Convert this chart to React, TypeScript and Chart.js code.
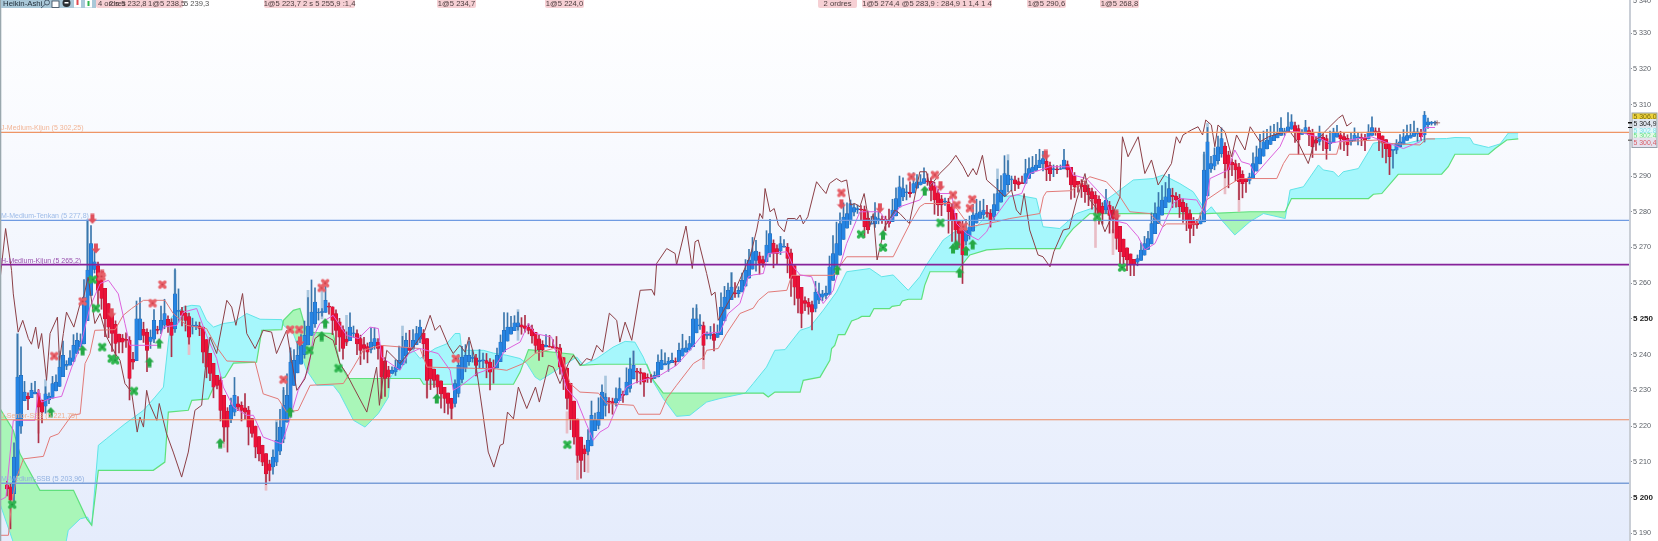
import React, { useEffect, useRef } from "react";
import { Chart, registerables } from "chart.js";

Chart.register(...registerables);

const firstBar = 2;
const lastSlot = 465.43;
const priceMin = 5187.8;
const priceMax = 5339.3;

const closes = [
  5202.4,5199.2,5211.3,5233.7,5234.2,5229.5,5227.6,5230,5229.5,5225.3,
  5223.9,5229,5228.3,5231.9,5232.3,5236.5,5239.8,5237.3,5239.1,5242.6,
  5244,5243.8,5256,5263.7,5271.1,5266,5258,5255.7,5250,5247.7,
  5245.9,5243.1,5243.5,5243.5,5244,5233.3,5237.9,5250,5250,5245.4,
  5241.2,5244.9,5249.6,5246.8,5249.6,5251.5,5248.2,5245.4,5257,5252.4,
  5251,5249.6,5244.9,5248.2,5248.2,5247.3,5240.7,5236.5,5234.7,5230.9,
  5231.4,5224.4,5219.7,5219.7,5225.8,5228.6,5225.3,5224.4,5223.9,5219.7,
  5217.9,5214.1,5212.2,5209.9,5206.6,5207.6,5211.3,5216,5219.7,5225.8,
  5228.6,5237.9,5238.4,5239.8,5242.6,5245.4,5248,5251.9,5254.7,5251.9,
  5251.9,5255.2,5253.3,5249.6,5246.8,5244.9,5241.7,5243.5,5247.7,5246,
  5243,5241.2,5241.7,5240.7,5243.5,5244.5,5241.7,5233.7,5233.3,5233.7,
  5235.6,5236.5,5238.4,5242.1,5244,5241.2,5244,5245.9,5247.7,5243,
  5232.8,5233.2,5232.8,5230.9,5229,5227.7,5226.3,5224.9,5231.9,5237,
  5239.3,5239.8,5239.8,5239.3,5237,5238.4,5238.4,5237.5,5235.1,5236,
  5239.8,5243.5,5246.8,5247.7,5247.7,5248.9,5248.9,5247.7,5247.3,5246.8,
  5245.2,5242.6,5241.4,5241.4,5242.6,5242.1,5241.9,5241.7,5236.5,5233.2,
  5227.7,5222,5216.9,5211.8,5210.4,5212.2,5216,5223,5221.6,5223.9,
  5229.5,5228.1,5226.7,5226.3,5227.7,5230.5,5228.6,5232.3,5236,5237,
  5235.1,5234.7,5232.3,5233.2,5233.2,5234.2,5237.9,5238.4,5237.5,5238.2,
  5238.4,5237.9,5241.2,5241.7,5241.9,5243.1,5250,5250,5248.2,5242.6,
  5245.4,5245.9,5244,5246.3,5253.3,5256.1,5258,5258.9,5257,5258,
  5260.8,5263.6,5266.5,5268.8,5269,5265.5,5265.5,5270.7,5273.9,5268.3,
  5268.3,5271.1,5270.2,5266.9,5261.3,5258.9,5255.7,5251.5,5254.3,5253.3,
  5251.9,5257.5,5257,5257,5257.2,5264.6,5268.3,5271.1,5276.7,5278.5,
  5279.5,5282.3,5281.2,5280.9,5280.5,5275.8,5274.9,5276.7,5278.6,5278.1,
  5277.7,5277.7,5276.7,5280.5,5283.7,5287,5286.5,5285.5,5285.1,5287.9,
  5288.4,5288.4,5289.3,5288.4,5286,5283.3,5281.9,5281.9,5282.8,5280,
  5277.7,5274.9,5273.9,5267.9,5274.9,5275.8,5279.1,5279.5,5280,5280.5,
  5279.5,5277.7,5282,5285.1,5286.1,5290.7,5290.3,5289,5287.9,5287.5,
  5287.9,5290.7,5292.1,5292.5,5293.1,5294.5,5294.9,5291.7,5290.7,5292.1,
  5291.7,5292.1,5294.5,5291.7,5287.5,5287,5287.5,5287,5285.6,5284.7,
  5283.7,5282.3,5279.5,5279.5,5283.3,5279,5278.1,5272.5,5268.8,5267.4,
  5266.5,5265.1,5265.1,5266.9,5269.3,5271.1,5272.5,5276.7,5279.5,5281.4,
  5283.3,5284.2,5286.5,5284.2,5283.3,5281.4,5280,5277.7,5275.3,5276.3,
  5276.3,5277.7,5291.7,5299.6,5293.5,5295.9,5298.2,5300.5,5293.5,5291.7,
  5293.1,5291.7,5288.4,5287.9,5288.4,5289.8,5293.5,5295.4,5297.7,5299.6,
  5300.1,5301,5301.5,5302,5303.4,5302.4,5303.8,5305.2,5302.4,5300.1,
  5302,5303.6,5301.5,5298.2,5299.2,5302,5300.1,5297.7,5299.6,5302.4,
  5302.2,5300.5,5300.1,5298.7,5300.1,5301.5,5301,5300.5,5300.1,5302.4,
  5303.6,5302.4,5300.1,5299.2,5297.7,5295.4,5297.3,5299.2,5299.6,5301,
  5301.3,5301.5,5302.4,5302.4,5301,5307.1,5305.2,5304.8,5304.9,
];

const wickUp = [
  1,1,4,12,8,3,1,2,3,1, 0,2,1,2,2,3,4,1,2,3, 2,2,5,14,5,3,1,2,0,0,
  0,1,0,1,2,1,2,5,6,2, 1,2,3,1,4,4,1,1,7,6, 1,2,1,2,1,1,0,0,0,0,
  0,1,0,1,2,5,2,1,4,1, 0,0,0,0,0,1,2,5,5,5, 6,4,3,4,3,4,8,9,4,1,
  1,4,1,0,1,1,1,2,4,2, 1,1,2,1,4,3,1,0,1,1, 1,2,4,3,2,5,3,2,2,1,
  0,0,0,0,0,0,0,0,1,3, 3,3,4,2,1,3,2,2,1,2, 2,2,5,4,3,2,3,2,3,1,
  1,0,1,1,3,3,2,3,1,0, 0,0,0,0,0,1,3,4,2,4, 2,1,1,1,3,3,1,4,3,4,
  1,1,0,1,1,1,2,3,3,1, 2,1,2,4,2,2,3,4,3,1, 1,2,3,2,4,3,2,4,3,1,
  2,3,3,4,3,1,1,4,4,1, 1,2,2,1,1,0,0,0,1,1, 1,3,3,1,2,3,5,6,3,4,
  3,1,1,1,1,1,2,2,4,2, 1,1,3,3,3,3,3,2,3,3, 2,2,3,2,1,1,1,1,1,1,
  1,0,0,2,3,3,3,4,3,3, 2,1,3,4,4,5,4,1,1,1, 2,4,3,3,3,3,2,1,1,1,
  1,1,3,1,0,1,0,1,1,1, 1,1,1,1,3,1,1,1,0,0, 0,0,0,1,2,2,2,3,3,4,
  4,4,4,2,1,1,1,1,1,1, 1,2,5,4,2,2,3,3,1,1, 1,1,1,1,0,1,3,3,4,3,
  3,3,3,3,3,1,4,2,1,1, 1,2,1,1,1,2,1,1,3,1, 2,1,1,1,2,2,1,1,1,2,
  3,1,1,0,0,0,0,1,2,2, 3,3,3,1,1,1,1,0.5,0.5,
];

const wickDown = [
  2,8,3,0,2,0,3,0,0,10, 3,2,1,0,0,0,0,1,0,0, 0,0,0,0,0,1,4,3,5,3,
  5,4,3,3,2,6,2,0,0,2, 6,2,1,1,1,1,2,6,1,3, 3,3,2,2,1,2,3,3,2,3,
  1,3,4,7,1,1,1,3,2,5, 1,3,2,1,3,3,2,1,1,1, 0,0,0,0,0,1,0,0,1,2,
  1,0,2,4,4,4,3,1,0,1, 3,4,3,3,1,1,3,6,5,3, 0,1,0,0,2,0,0,0,1,4,
  5,3,2,3,4,4,3,3,1,1, 1,1,1,1,3,2,2,4,5,4, 0,0,0,0,0,0,1,2,1,1,
  2,2,3,2,0,0,0,1,2,3, 3,3,2,2,5,5,1,0,0,1, 0,3,3,3,1,0,2,0,1,0,
  3,3,4,1,1,0,0,0,0,2, 0,1,0,0,0,0,0,0,1,4, 1,1,3,0,0,0,0,0,1,1,
  0,0,0,0,3,3,1,0,1,4, 3,1,0,4,5,5,4,4,2,2, 5,1,1,1,1,0,0,0,0,0,
  0,1,1,1,3,3,1,0,1,1, 1,3,1,0,0,0,1,2,1,0, 0,0,0,1,3,4,3,3,1,6,
  6,4,4,8,1,1,0,0,0,1, 1,2,1,0,0,0,2,3,2,1, 0,0,0,0,0,0,2,3,2,2,
  1,0,0,2,4,3,2,3,3,3, 3,3,3,3,1,5,4,3,4,3, 3,3,3,1,0,0,0,0,0,0,
  0,0,0,3,2,3,3,3,4,3, 1,0,0,0,1,1,1,1,4,5, 3,3,5,4,3,1,0,0,0,0,
  0,0,0,0,0,1,0,0,3,4, 0,0,3,3,2,1,3,3,2,0, 0,3,3,3,1,0,2,2,3,0,
  0,1,3,4,4,5,5,1,0,0, 0,0,0,2,1,2,1,0.5,0.5,
];

const paleBlueWicks = [
  [5,5228,5246],[13,5229,5233],[17,5236,5241],[25,5262,5277.7],[50,5250,5263.6],[79,5215,5221.6],
  [81,5221,5230],[83,5230,5241],[88,5248,5258],[92,5250,5258],[99,5243,5251],[115,5240,5248],
  [148,5244,5252.6],[173,5228,5234],[181,5233,5241],[199,5248,5253],[209,5258,5263],
  [285,5285,5292],[288,5288,5296],[344,5278,5296],[345,5295,5304.8],
];
const paleRedWicks = [
  [11,5218,5230],[54,5240,5247],[64,5214,5222],[76,5202,5207],[122,5228,5236],[129,5222,5226],
  [162,5218,5224],[165,5205,5213],[168,5207,5214],[201,5236,5242],[313,5270,5282],[318,5268,5275],
  [350,5285,5292],[354,5280,5289],
];

const chikou = [
  [0,5260.9],[1.6,5275.3],[3.3,5263.6],[3.8,5257],[5.2,5246.3],[6.5,5249.6],[8.1,5244.5],[9,5242.9],[10.2,5247.7],[11,5241.7],
  [11.9,5245.9],[13.3,5232.8],[14.3,5245.9],[16.4,5250.5],[17,5238.4],[18.1,5245.9],[19,5251.9],[21.1,5247.7],[22.9,5254.3],[24,5256.6],
  [25.2,5261.7],[27.1,5248.7],[28.6,5251.5],[30.5,5244.9],[32.9,5240.3],[34.3,5238.4],[35.7,5231.9],[37.6,5229.5],[39.2,5218.3],[40,5222.5],
  [41,5219.7],[41.9,5230],[42.7,5226.3],[44.8,5221.6],[45.5,5226.3],[47.6,5217.8],[49.5,5212.7],[51.9,5205.7],[53.8,5212.7],[55.7,5224.4],
  [57.6,5225.8],[58.6,5235.6],[60,5244.9],[61.9,5240.3],[64.8,5255.2],[66.2,5253.3],[67.4,5248.2],[69.3,5257.1],[70.5,5245.9],[72.9,5241.7],
  [75.2,5246.8],[77.6,5246.3],[79,5240.3],[81.9,5246.8],[83.3,5238.4],[84.8,5230],[87.1,5233.2],[90,5244.5],[91.9,5245.9],[95.2,5244],
  [97.1,5237.5],[99,5234.7],[101,5230.9],[104.8,5223.9],[107.6,5236.5],[108.4,5225.8],[110.5,5241.2],[114.3,5237.5],[118.1,5242.1],[121.4,5246.8],
  [122.9,5251],[124.3,5246.8],[125.7,5248.2],[128.1,5242.6],[129.5,5240.3],[131.4,5242.6],[132.9,5240.7],[134,5244.9],[135.7,5238.9],[138.1,5222.5],
  [139.5,5212.7],[141.1,5208.5],[142.9,5214.6],[143.8,5215],[145,5223.9],[146.7,5222],[148.1,5230.9],[150.5,5224.9],[153,5230.9],[154.1,5226.7],
  [156.7,5237],[158.1,5236.5],[160,5231.9],[162.4,5237.5],[163.8,5239.8],[165.9,5237],[167.6,5238.9],[169,5238.4],[170.5,5242.6],[172.2,5240.7],
  [174.1,5251.6],[176.2,5249.6],[177.1,5243.5],[178.6,5249.1],[180.5,5244],[182.9,5258],[186.2,5258.2],[187,5256.6],[187.6,5265.5],[190.5,5269.7],
  [192.9,5268.3],[193.3,5265.1],[196,5276],[197.8,5264.1],[198.6,5271.6],[199.5,5272.1],[201.9,5262.7],[203.3,5256.6],[204.3,5257.5],[205.2,5249.6],
  [210,5258],[214.3,5267.4],[216.2,5274.9],[217.1,5279.5],[217.9,5278.1],[218.6,5286.5],[220,5280],[221.2,5280.9],[222.4,5276.3],[224.1,5274.4],
  [225,5278.1],[227.1,5278.1],[227.6,5277.7],[228.6,5279.1],[229.5,5276.6],[230.8,5278.6],[233.3,5288.4],[234.8,5286.5],[236,5285.1],[237,5287.9],
  [239,5289.3],[240.4,5288.4],[241.9,5288.9],[243,5281.9],[244.2,5282.3],[245.7,5281.4],[246.9,5285.1],[248.5,5275.8],[249.5,5279.5],[250.6,5266.5],
  [252.8,5275.8],[255.7,5280.5],[257.1,5279.5],[259.8,5276.7],[262.8,5291.2],[264.7,5291.2],[265.7,5287],[268.5,5290.7],[271.4,5293.5],[273.1,5295.8],
  [275.2,5292.6],[276.6,5289.8],[278,5292.1],[279,5290.3],[280.7,5295.8],[281.9,5288.9],[284.7,5286.5],[287.1,5284.2],[289,5286.1],[290.4,5280.5],
  [291.6,5279.1],[292.6,5285.1],[294.2,5274.9],[296.6,5267.9],[298,5267.4],[300,5264.6],[301.1,5268.8],[303.8,5274.9],[305.5,5275.3],[307.6,5283.3],
  [310,5290.7],[311.4,5283.3],[313.3,5280.9],[315.7,5274.4],[318,5279.5],[320,5284.2],[320.7,5301],[322.3,5295.4],[325.2,5301],[327.1,5290.7],
  [329,5294.5],[330.9,5287.5],[334.7,5293.5],[336.1,5301],[337.1,5299.2],[338,5301.5],[340.4,5302.9],[342.3,5303.8],[343.6,5301.5],[344.5,5305.7],
  [346.1,5304.3],[347.1,5298.2],[348,5304.3],[350,5302.4],[351.9,5295.4],[353.3,5301.5],[355.7,5297.3],[357.2,5303.8],[360,5299.6],[362.4,5301],
  [365.7,5302],[368.6,5302.4],[371,5299.2],[373.8,5293.5],[375.7,5300.1],[377.2,5301],[379.5,5303.4],[382.4,5306.2],[383.6,5307.1],[384.8,5304],[386.2,5305],
];

const kijun = [
  [0,5189.4],[2.4,5189.4],[3.3,5198.2],[4.8,5205.7],[6.7,5210.8],[12.4,5211.5],[14.3,5216.9],[16.7,5217.8],[20.5,5223],[22.9,5223.4],
  [24.3,5237.5],[25.7,5240.3],[27.1,5246.8],[32.9,5247],[35.2,5251],[37.6,5252.9],[41,5255.2],[47.1,5255.2],[49.5,5251.5],[53.3,5248.2],
  [59,5247.3],[61.9,5242.1],[64.8,5238.2],[72.9,5237.9],[75.2,5229],[79.5,5227.6],[81.9,5223.9],[85.2,5224.4],[88.6,5231.4],[98.1,5231.9],
  [101,5236.5],[103.8,5241.2],[108.6,5242.6],[120,5241.7],[122,5236.5],[141.9,5236],[144.8,5235.6],[149.5,5237.5],[152.9,5240.3],[158.1,5241.7],
  [160,5241.2],[162.9,5231.9],[165.7,5229.5],[171,5229.2],[173.3,5226.3],[181,5225.8],[182.4,5223.3],[188.6,5223.3],[190.5,5227.7],[193.3,5231.4],
  [198.1,5237.5],[201.1,5239.3],[201.9,5241.2],[205.2,5241.7],[207.6,5245.9],[211.4,5251.5],[215.2,5253],[216.7,5255.2],[219.5,5257.5],[224.8,5258],
  [226.2,5262.2],[238.1,5262.2],[241.9,5267.4],[255.2,5267.4],[257.6,5272.1],[260,5276.7],[262.8,5281.4],[264.2,5282.3],[272.3,5282.3],[277.1,5275.8],
  [284.7,5277.2],[288.5,5278.1],[297.1,5279.5],[298.1,5284.2],[299,5285.6],[306.1,5285.9],[311.4,5289.8],[316.1,5288.4],[320,5284.2],[322.8,5280],
  [328.5,5279.5],[332.3,5275.8],[333.3,5276.6],[341.9,5276.6],[344.7,5283.3],[349.5,5286.5],[354.2,5289.3],[364.8,5289.3],[366.7,5293.5],[368.4,5296.1],
  [381.9,5296.1],[382.9,5299.6],[393.8,5300.1],[395.2,5299.2],[405.7,5298.7],[407.6,5300.4],[410,5300.4],
];

const tenkan = [
  [0,5199.2],[1.7,5200.1],[3.8,5221.6],[10,5221.6],[11,5230],[11.9,5226.7],[14.3,5227.7],[17.6,5228.3],[20.5,5236.5],[22.9,5242.1],
  [25.7,5253.3],[28.6,5259.9],[31,5260.8],[33.8,5257],[35.7,5248.7],[37.1,5242.6],[45.2,5242.6],[46.7,5247.7],[50.5,5248.2],[52.4,5251.9],
  [56.2,5252.9],[59,5245.4],[61.9,5238.9],[63.8,5230.9],[66.7,5225.3],[70.5,5223],[72.4,5223],[75.2,5216.9],[77.6,5216],[80.5,5215],
  [82.4,5220.6],[85.2,5230],[88.1,5235.6],[89.5,5244.9],[91.4,5248.7],[95.2,5251],[99,5245.4],[102.4,5244.5],[105.7,5247.7],[108.1,5247.3],
  [109,5239.3],[114.3,5235.6],[116.7,5240.3],[120,5241.7],[125.2,5240.3],[128.6,5235.6],[129.5,5230],[131.9,5231.4],[136.2,5234.7],[141.4,5236.5],
  [144.3,5241.2],[148.6,5243.5],[151,5248.7],[152.9,5245.9],[157.6,5244.9],[159,5240.3],[161.9,5230.5],[164.8,5227.2],[167.1,5221.6],[169.5,5216],
  [171.4,5218.3],[173.8,5219.7],[176.2,5225.3],[179,5230.9],[181.9,5232.3],[186.7,5233.7],[188.6,5234.2],[193.3,5237],[197.1,5241.2],[201,5245.9],
  [205.7,5246.3],[208.1,5251.5],[211.4,5254.3],[213.8,5261.8],[215.2,5262.3],[218.1,5262.7],[219.5,5268.3],[224.8,5268.8],[226.7,5264.6],[228.6,5262.3],
  [231.9,5261.8],[233.3,5258],[235.2,5254.3],[238.1,5258],[238.5,5259.9],[241.9,5271.1],[245.7,5280],[251.4,5280],[253.8,5276.7],[257.1,5281.4],
  [262.8,5283.3],[266.6,5288.4],[268.5,5285.1],[271.9,5285.1],[273.3,5276.7],[276.1,5273.9],[279.5,5272.1],[281.9,5274.4],[283.3,5277.2],[288.5,5284.2],
  [291.9,5285.1],[294.2,5290.7],[300,5292.6],[305.7,5292.6],[306.6,5290.3],[310.4,5289.3],[316.1,5283.3],[317.6,5277.7],[321.9,5276.7],[325.2,5273],
  [327.1,5269.3],[330,5271.1],[335.2,5282.3],[337.1,5283.7],[341.9,5283.3],[344.2,5279.5],[345.7,5289.3],[350.9,5291.7],[352.8,5297.3],[354.7,5294],
  [357.1,5293.3],[358.6,5290.3],[361.9,5294],[365.7,5298.2],[367.6,5302.4],[371,5302.4],[376.2,5301],[380,5299.2],[385.3,5300.1],[391.9,5301],
  [396.7,5299.2],[401,5297.7],[405.7,5299.6],[407.2,5303.6],[410,5303.6],
];

const senkouA = [
  [0,5198.2],[4.3,5186],[18.6,5186],[19.5,5190.8],[22.9,5194],[25,5194.5],[26.2,5192.2],[28.1,5214.6],[30.5,5216.5],[35.7,5220.6],
  [41,5224.4],[44.3,5228.1],[46.7,5230.9],[48.1,5243.5],[49,5250.5],[52.4,5253.3],[54.8,5253.8],[57.1,5253.6],[59,5249.6],[61,5247.7],
  [63.8,5248.7],[66.7,5249.1],[70.5,5251.5],[74.3,5249.9],[80.5,5249.8],[81,5248.2],[83.8,5245.9],[87.6,5235.6],[90.5,5231.4],[95.2,5231.4],
  [97.1,5229],[101,5221.6],[104.3,5219.7],[108.1,5223.5],[111,5228.1],[111.4,5233.3],[114.3,5237.9],[118.1,5241.2],[120,5238.9],[124.3,5241.7],
  [127.6,5243],[130,5245.9],[131.4,5245.9],[131.9,5241.2],[138.1,5241.2],[141,5240.4],[144.8,5239.8],[148.6,5238.9],[150.5,5237.5],[152.9,5233.7],
  [154.3,5232.8],[158.1,5235.1],[161,5237],[164.8,5239.3],[166.7,5237],[170.5,5238.9],[175.2,5242.1],[178.6,5243.7],[181.4,5243.5],[183.8,5239.3],
  [186.7,5232.3],[189.5,5227.7],[193.3,5222.7],[197.1,5223],[201.9,5226.7],[205.7,5227.7],[212.9,5229.2],[215.2,5231.9],[219,5236.5],[221.4,5241.2],
  [224.3,5241.4],[228.6,5246.8],[231.4,5247.7],[235.2,5252.4],[239,5257.5],[241.9,5263.2],[248.5,5264.1],[251.9,5261.8],[255.2,5262.3],[259.5,5258],
  [262.8,5261.8],[264.7,5265.1],[269.5,5272.1],[272.8,5274.4],[279,5275.8],[282.8,5280],[286.6,5284.2],[290.4,5284.7],[296.1,5283.7],[298,5275.8],
  [302.8,5275.3],[307.6,5279.5],[313.3,5281.4],[320,5286.1],[323.8,5288.9],[329.5,5289.3],[332.3,5290.3],[337.1,5287.9],[340.9,5285.6],[344.7,5280],
  [346.1,5281.4],[349,5277.7],[352.8,5273.5],[357.1,5277.2],[361,5279.5],[367.2,5278.1],[368.6,5286.1],[372.4,5287],[376.7,5293.1],[378.1,5291.7],
  [381,5291.2],[382.4,5289.8],[383.8,5291.2],[388.1,5292.1],[391,5296.8],[392.4,5299.2],[394.8,5299.6],[400,5298.7],[407.2,5300.4],[413.3,5300.5],
  [415.7,5300.8],[420,5300.7],[421,5299],[425.3,5298],[428.6,5299],[431,5302.1],[433.8,5302.1],
];

const senkouB = [
  [0,5224.9],[3.8,5218.8],[5.7,5212.2],[11.4,5202],[21,5202],[24.8,5194],[26.2,5192.2],[28.1,5207.6],[43.8,5207.6],[47.1,5209.9],
  [48.1,5223.9],[53.8,5224.4],[54.8,5227.2],[59.5,5227.6],[61.9,5232.8],[64.3,5233.7],[66.7,5237.6],[73.3,5237.9],[74.8,5246.8],[80.5,5247],
  [81,5249.6],[83.8,5252.4],[85.7,5252.9],[87.6,5246.3],[95.2,5245.9],[97.1,5237.5],[99.5,5233.3],[120,5233.3],[121,5231.7],[146.7,5231.7],
  [148.6,5235.1],[151,5241.4],[163.8,5240.1],[165.7,5237],[171.4,5237.3],[184.8,5237.3],[186.7,5232.8],[189.5,5229.2],[218.1,5229.2],[219.5,5228.1],
  [221.4,5229.5],[228.6,5229.5],[229.5,5232.8],[234.3,5233.7],[237.1,5238.4],[237.6,5241.7],[238.5,5242.6],[239.5,5245.6],[241.4,5245.6],[243.3,5249.4],
  [245.2,5250.1],[246.2,5250.7],[248.5,5250.7],[249.7,5252.9],[254.2,5252.9],[254.9,5253.5],[257.1,5253.8],[257.8,5255],[259.5,5255.5],[263.3,5255.5],
  [264.2,5259.4],[265.7,5263.2],[273.3,5263.2],[277.1,5267.9],[281.9,5269.3],[287.6,5269.7],[302.8,5269.7],[304.7,5273],[306.6,5275.3],[311.4,5279.5],
  [344.7,5279.5],[357.1,5280],[367.2,5280],[369,5283.7],[391,5283.7],[392.4,5284.9],[394.8,5285.1],[399.5,5290.5],[411.9,5290.5],[413.8,5292.6],
  [415.7,5296.1],[425.3,5296.1],[427.2,5297.7],[430.5,5300.1],[433.8,5300.4],
];

const sellSignals = [
  [46.4,5259.6],[15.5,5239.6],[23.6,5254.9],[43.6,5254.4],[81,5233],[82.9,5247],[85.5,5247],[91.9,5258.7],[92.9,5260],[29,5261.9],[130.2,5238.9],
  [240.4,5285.3],[260.4,5289.8],[267.1,5290.3],[272.3,5284.7],[273.3,5281.9],[277.8,5283.5],[277.1,5281],[275.2,5275.8],
];
const sellArrows = [
  [26.4,5278],[27.4,5269.7],[29.2,5262.3],[31.9,5251.6],[85.7,5243.7],[240.4,5282.1],[251.4,5281],[268.7,5287.2],[298.8,5295.9],[319,5279.1],
];
const buySignals = [
  [26.5,5261],[27.4,5253],[29.2,5242.1],[31.9,5238.9],[32.9,5238.4],[38.3,5229.8],[3.5,5198],[88.4,5241.2],[96.7,5236.2],[162.1,5214.8],
  [246,5273.7],[252.3,5270],[268.7,5276.9],[313.5,5278.6],[320.6,5264.4],
];
const buyArrows = [
  [14.5,5223.9],[23.6,5241.2],[45.5,5243.2],[42.7,5237.9],[62.9,5215.2],[82.9,5223.9],[92.9,5248.8],[91.9,5245.2],[124.8,5227.7],[239.2,5263.7],
  [252.3,5273.5],[264.2,5285.9],[272.3,5269.7],[273.3,5270.7],[276,5269.1],[277.9,5270.9],[274.2,5262.9],
];

const levelNames = ["J-Medium-Kijun (5 302,25)", "M-Medium-Tenkan (5 277,8)", "H-Medium-Kijun (5 265,2)", "J-Senior-SSB (5 221,75)", "M-Medium-SSB (5 203,96)"];
const levelValues = [5302.25, 5277.6, 5265.2, 5221.75, 5203.96];
const priceTicks = [5190,5200,5210,5220,5230,5240,5250,5260,5270,5280,5290,5300,5310,5320,5330];
const topTick = 5340;
const boldTicks = [5200, 5250];
const orderTags = ["1@5 223,7 2 s 5 255,9 :1,4", "1@5 234,7", "1@5 224,0", "2 ordres", "1@5 274,4 @5 283,9 : 284,9 1 1,4 1 4", "1@5 290,6", "1@5 268,8"];
const overlappedTags = ["4 ordres", "2 s 5 232,8", "1@5 238,5", "5 239,3"];
const priceTags = ["5 306,0", "5 302,8", "5 302,4", "5 304,9", "5 300,4"];

const levelStyle = [
  { line: "#ee9566", text: "#f2b596", w: 1.2 },
  { line: "#6f9be2", text: "#9dbbe8", w: 1.2 },
  { line: "#86229a", text: "#9a52ae", w: 1.6 },
  { line: "#ec8a62", text: "#f0b08e", w: 1.2 },
  { line: "#7b9fd8", text: "#90b0e0", w: 1.4 },
];

const FONT = "'Liberation Sans', Arial, sans-serif";

function pts(list: number[][]) {
  return list.map(([x, y]) => ({ x, y }));
}

function tickText(v: number) {
  const s = String(v);
  return s.slice(0, 1) + " " + s.slice(1);
}

function makeMarker(kind: string) {
  const c = document.createElement("canvas");
  c.width = 10;
  c.height = 11;
  const g = c.getContext("2d") as CanvasRenderingContext2D;
  if (kind === "redX" || kind === "greenX") {
    const col = kind === "redX" ? "#e8626a" : "#30b650";
    g.strokeStyle = col;
    g.lineWidth = 3.6;
    g.lineCap = "round";
    g.beginPath();
    g.moveTo(2.6, 3.1);
    g.lineTo(7.4, 7.9);
    g.moveTo(7.4, 3.1);
    g.lineTo(2.6, 7.9);
    g.stroke();
    g.beginPath();
    g.arc(5, 5.5, 1, 0, 7);
    g.fillStyle = kind === "redX" ? "#c83d48" : "#1e8f3c";
    g.fill();
  } else {
    const up = kind === "greenUp";
    g.fillStyle = up ? "#25a845" : "#e0505c";
    g.beginPath();
    if (up) {
      g.moveTo(5, 0.5); g.lineTo(9.5, 5.5); g.lineTo(7, 5.5); g.lineTo(7, 10.5); g.lineTo(3, 10.5); g.lineTo(3, 5.5); g.lineTo(0.5, 5.5);
    } else {
      g.moveTo(5, 10.5); g.lineTo(9.5, 5.5); g.lineTo(7, 5.5); g.lineTo(7, 0.5); g.lineTo(3, 0.5); g.lineTo(3, 5.5); g.lineTo(0.5, 5.5);
    }
    g.closePath();
    g.fill();
  }
  return c;
}

const decor = {
  id: "decor",
  beforeDraw(chart: any) {
    const { ctx, chartArea: a, width, height } = chart;
    ctx.save();
    ctx.fillStyle = "#ffffff";
    ctx.fillRect(0, 0, width, height);
    const g = ctx.createLinearGradient(0, 0, 0, height);
    g.addColorStop(0, "#ffffff");
    g.addColorStop(1, "#e5ecfc");
    ctx.fillStyle = g;
    ctx.fillRect(a.left, 0, a.right - a.left, height);
    ctx.restore();
  },
  afterDraw(chart: any) {
    const { ctx, chartArea: a, height, scales } = chart;
    const y = scales.y;
    const x = scales.x;
    ctx.save();
    ctx.fillStyle = "#c9ced6";
    ctx.fillRect(a.right, 0, 2, height);
    ctx.fillStyle = "#9aa8ae";
    ctx.fillRect(0, 0, 1.3, height);

    ctx.fillStyle = "#5a5f66";
    ctx.font = `7.2px ${FONT}`;
    ctx.textBaseline = "middle";
    ctx.fillText(tickText(topTick), a.right + 4, y.getPixelForValue(topTick) + 3.5);

    ctx.textBaseline = "alphabetic";
    ctx.font = `7px ${FONT}`;
    levelNames.forEach((name, i) => {
      ctx.fillStyle = levelStyle[i].text;
      ctx.fillText(name, 1, y.getPixelForValue(levelValues[i]) - 2);
    });

    const tag = (l: number, r: number) => {
      ctx.fillStyle = "#f6d0d4";
      ctx.beginPath();
      ctx.roundRect(l, -3, r - l, 11, 2);
      ctx.fill();
    };
    const tagSpans = [[264, 355], [437, 476], [545, 584], [818, 857], [862, 992], [1027, 1066], [1100, 1139]];
    tag(96, 183);
    ctx.font = `7.6px ${FONT}`;
    ctx.fillStyle = "#4a3a3c";
    ctx.fillText(overlappedTags[0], 98, 5.5);
    ctx.fillText(overlappedTags[1], 109, 5.5);
    ctx.fillText(overlappedTags[2], 148, 5.5);
    ctx.fillStyle = "#555555";
    ctx.fillText(overlappedTags[3], 184, 5.5);
    orderTags.forEach((t, i) => {
      tag(tagSpans[i][0], tagSpans[i][1]);
      ctx.fillStyle = "#4a3a3c";
      const w = ctx.measureText(t).width;
      const cx = (tagSpans[i][0] + tagSpans[i][1]) / 2;
      ctx.fillText(t, cx - w / 2, 5.5);
    });

    ctx.fillStyle = "#a9c8d8";
    ctx.fillRect(1, 0, 95, 8);
    ctx.fillStyle = "#1f2d38";
    ctx.font = `7.8px ${FONT}`;
    ctx.fillText("Heikin-Ashi", 3, 5.5);
    ctx.strokeStyle = "#334455";
    ctx.lineWidth = 0.8;
    ctx.beginPath();
    ctx.arc(47, 2.5, 2.5, 0, 7);
    ctx.moveTo(45, 4.5);
    ctx.lineTo(41, 8);
    ctx.stroke();
    ctx.fillStyle = "#ffffff";
    ctx.fillRect(52, 1, 7, 6.5);
    ctx.strokeRect(52, 1, 7, 6.5);
    ctx.fillStyle = "#2a2f33";
    ctx.beginPath();
    ctx.arc(66.5, 3, 4, 0, 7);
    ctx.fill();
    ctx.fillStyle = "#ffffff";
    ctx.fillRect(64.5, 2, 4, 1.5);
    ctx.fillRect(74, 0, 7, 7.5);
    ctx.fillRect(85, 0, 7, 7.5);
    ctx.fillStyle = "#e04a50";
    ctx.fillRect(76.5, 0, 2, 5);
    ctx.fillStyle = "#2fb64e";
    ctx.fillRect(87.5, 1, 2, 5);

    ctx.font = `6.9px ${FONT}`;
    const rows = [
      { t: priceTags[0], top: 113, h: 6, bg: "#ecd23a", fg: "#7a6a10" },
      { t: priceTags[1], top: 128, h: 5.5, bg: "#e4f8fb", fg: "#7ee0e6" },
      { t: priceTags[2], top: 133, h: 5, bg: "#e4fbe8", fg: "#63dd84" },
      { t: priceTags[3], top: 119, h: 9, bg: "#dfe6ee", fg: "#1c1c1c" },
      { t: priceTags[4], top: 137.5, h: 10, bg: "#e6e2ee", fg: "#d85e66" },
    ];
    ctx.save();
    ctx.beginPath();
    ctx.rect(1632, 113, 26, 35);
    ctx.clip();
    rows.forEach((r) => {
      ctx.fillStyle = r.bg;
      ctx.fillRect(1632, r.top, 25, r.h);
      ctx.fillStyle = r.fg;
      ctx.fillText(r.t, 1633.5, r.top + r.h / 2 + 2.5);
    });
    ctx.restore();
    ctx.strokeStyle = "#98a0aa";
    ctx.lineWidth = 1;
    ctx.strokeRect(1632, 113, 25, 34.5);
    ctx.fillStyle = "#111111";
    ctx.fillRect(1628, 122, 4, 1.5);
    ctx.fillRect(1628, 127, 4, 1);
    ctx.fillStyle = "#777777";
    ctx.fillRect(1628, 139.5, 4, 1.5);

    ctx.strokeStyle = "#8a5050";
    ctx.lineWidth = 0.8;
    const cx = x.getPixelForValue(410.6);
    const cy = y.getPixelForValue(5304.9);
    ctx.beginPath();
    ctx.moveTo(cx - 3, cy);
    ctx.lineTo(cx + 3, cy);
    ctx.moveTo(cx, cy - 2.5);
    ctx.lineTo(cx, cy + 2.5);
    ctx.stroke();
    ctx.restore();
  },
};

export default function App() {
  const ref = useRef<HTMLCanvasElement>(null);
  useEffect(() => {
    document.body.style.margin = "0";
    const canvas = ref.current as HTMLCanvasElement;

    const bars: any[] = [];
    let prevOpen = 5204;
    let prevClose = 5203;
    closes.forEach((c, i) => {
      const o = (prevOpen + prevClose) / 2;
      bars.push({
        x: i + firstBar,
        o,
        c,
        h: Math.max(o, c) + (wickUp[i] ?? 1),
        l: Math.min(o, c) - (wickDown[i] ?? 1),
        up: c >= o,
      });
      prevOpen = o;
      prevClose = c;
    });

    const lineBase = { type: "line", pointRadius: 0, tension: 0, fill: false, spanGaps: true };
    const markerBase = { type: "line", showLine: false, pointRadius: 5, pointHoverRadius: 5, order: 10 };

    const datasets: any[] = [
      {
        ...lineBase,
        label: "senkouA",
        data: pts(senkouA),
        borderColor: "#62e4e8",
        borderWidth: 1,
        order: 90,
        fill: { target: "+1", above: "#a6f7fc", below: "#a9f6b8" },
      },
      { ...lineBase, label: "senkouB", data: pts(senkouB), borderColor: "#5fe07c", borderWidth: 1.2, order: 89 },
      {
        type: "bar",
        label: "paleBlue",
        data: paleBlueWicks.map(([x, l, h]) => ({ x, y: [l, h] })),
        backgroundColor: "#a9c6de",
        barThickness: 2,
        order: 80,
      },
      {
        type: "bar",
        label: "paleRed",
        data: paleRedWicks.map(([x, l, h]) => ({ x, y: [l, h] })),
        backgroundColor: "#e9bdc6",
        barThickness: 2,
        order: 79,
      },
      {
        type: "bar",
        label: "wicks",
        data: bars.map((b) => ({ x: b.x, y: [b.l, b.h] })),
        backgroundColor: bars.map((b) => (b.up ? "#3a76ac" : "#ad3048")),
        barThickness: 1,
        order: 70,
      },
      {
        type: "bar",
        label: "bodies",
        data: bars.map((b) => ({ x: b.x, y: [Math.min(b.o, b.c), Math.max(b.o, b.c) + 0.001] })),
        backgroundColor: bars.map((b) => (b.up ? "#2684e2" : "#ea1238")),
        borderColor: bars.map((b) => (b.up ? "#2268b4" : "#c21035")),
        borderWidth: 0.5,
        borderSkipped: false,
        barThickness: 3.5,
        minBarLength: 1,
        order: 60,
      },
      { ...lineBase, label: "kijun", data: pts(kijun), borderColor: "#e27a78", borderWidth: 1, order: 50 },
      { ...lineBase, label: "tenkan", data: pts(tenkan), borderColor: "#dd62dd", borderWidth: 1, order: 49 },
      { ...lineBase, label: "chikou", data: pts(chikou), borderColor: "#8c3f46", borderWidth: 1, order: 48 },
      ...levelValues.map((v, i) => ({
        ...lineBase,
        label: levelNames[i],
        data: [{ x: 0, y: v }, { x: lastSlot, y: v }],
        borderColor: levelStyle[i].line,
        borderWidth: levelStyle[i].w,
        order: 40,
      })),
      { ...markerBase, label: "sellX", data: pts(sellSignals), pointStyle: makeMarker("redX") },
      { ...markerBase, label: "sellArrow", data: pts(sellArrows), pointStyle: makeMarker("redDown") },
      { ...markerBase, label: "buyX", data: pts(buySignals), pointStyle: makeMarker("greenX") },
      { ...markerBase, label: "buyArrow", data: pts(buyArrows), pointStyle: makeMarker("greenUp") },
    ];

    const chart = new Chart(canvas, {
      type: "bar",
      data: { datasets },
      plugins: [decor],
      options: {
        animation: false,
        responsive: false,
        events: [],
        layout: { padding: 0, autoPadding: false },
        datasets: { bar: { grouped: false } },
        plugins: { legend: { display: false }, tooltip: { enabled: false }, title: { display: false } },
        scales: {
          x: { type: "linear", min: 0, max: lastSlot, display: false, offset: false },
          y: {
            position: "right",
            min: priceMin,
            max: priceMax,
            afterBuildTicks(scale: any) {
              scale.ticks = priceTicks.map((value) => ({ value }));
            },
            afterFit(scale: any) {
              scale.width = 29;
              scale.paddingTop = 0;
              scale.paddingBottom = 0;
              scale.paddingLeft = 0;
              scale.paddingRight = 0;
            },
            border: { display: false },
            grid: { drawOnChartArea: false, drawTicks: true, tickLength: 3, color: "#8a8f96" },
            ticks: {
              color: (c: any) => (boldTicks.includes(c.tick?.value) ? "#222222" : "#5a5f66"),
              font: (c: any) =>
                boldTicks.includes(c.tick?.value)
                  ? { family: FONT, size: 8, weight: "bold" }
                  : { family: FONT, size: 7.2 },
              padding: 1,
              autoSkip: false,
              maxRotation: 0,
              align: "center",
              callback: (v: any) => tickText(v),
            },
          },
        },
      } as any,
    } as any);
    return () => chart.destroy();
  }, []);
  return <canvas ref={ref} width={1658} height={541} style={{ display: "block" }} />;
}
